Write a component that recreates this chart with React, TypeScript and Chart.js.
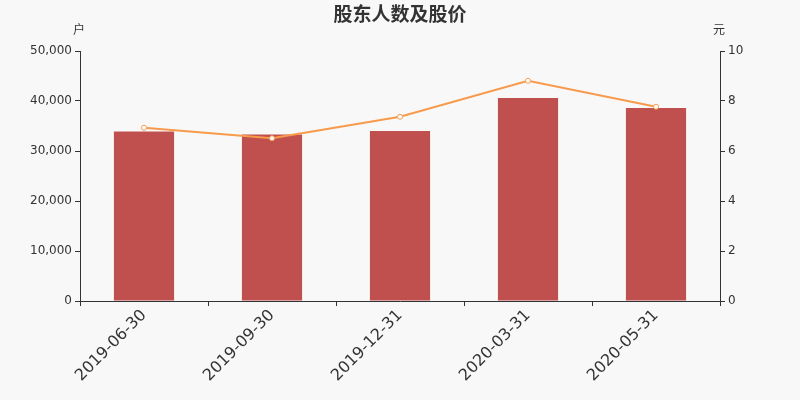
import { useEffect, useRef } from 'react';
import { Chart, registerables } from 'chart.js';

Chart.register(...registerables);

const dates = ['2019-06-30', '2019-09-30', '2019-12-31', '2020-03-31', '2020-05-31'];
const holders = [33900, 33300, 34000, 40600, 38600];
const prices = [6.93, 6.51, 7.37, 8.81, 7.77];

const FONT = '"DejaVu Sans", sans-serif';

// draws the title and the two unit labels above the axes
const labelsPlugin = {
  id: 'unitLabels',
  afterDraw(chart: Chart) {
    const { ctx, chartArea } = chart;
    ctx.save();
    ctx.fillStyle = '#333';
    ctx.textAlign = 'center';
    ctx.textBaseline = 'middle';
    ctx.font = 'bold 19px "Noto Sans CJK SC", sans-serif';
    ctx.fillText('股东人数及股价', 400, 14);
    ctx.font = '12px "Noto Sans CJK SC", sans-serif';
    ctx.fillText('户', chartArea.left - 1, 29);
    ctx.fillText('元', chartArea.right - 1, 29);
    ctx.restore();
  },
};

export default function App() {
  const chartRef = useRef<HTMLCanvasElement>(null);
  const chartInstance = useRef<Chart | null>(null);

  useEffect(() => {
    document.body.style.margin = '0';
    if (!chartRef.current) return;
    if (chartInstance.current) chartInstance.current.destroy();
    const ctx = chartRef.current.getContext('2d');
    if (!ctx) return;

    chartInstance.current = new Chart(ctx, {
      type: 'bar',
      data: {
        labels: dates,
        datasets: [
          {
            type: 'line',
            label: '股价',
            data: prices,
            yAxisID: 'y1',
            borderColor: '#f79a4b',
            borderWidth: 2,
            pointRadius: 2.5,
            pointBackgroundColor: '#fff',
            pointBorderColor: '#f79a4b',
            pointBorderWidth: 1,
            tension: 0,
            order: 0,
          },
          {
            type: 'bar',
            label: '股东人数',
            data: holders,
            yAxisID: 'y',
            backgroundColor: '#c0504d',
            categoryPercentage: 1,
            barPercentage: 0.47,
            order: 1,
          },
        ],
      },
      options: {
        responsive: true,
        maintainAspectRatio: false,
        animation: false,
        layout: { padding: { top: 51, left: 0, right: 0, bottom: 0 } },
        plugins: {
          legend: { display: false },
          title: { display: false },
          tooltip: { enabled: false },
        },
        scales: {
          x: {
            offset: true,
            grid: {
              offset: true,
              drawOnChartArea: false,
              drawTicks: true,
              tickLength: 5,
              color: '#333',
            },
            border: { color: '#333' },
            ticks: {
              color: '#333',
              font: { family: FONT, size: 16 },
              minRotation: 45,
              maxRotation: 45,
              padding: 0,
            },
            afterFit(scale: any) {
              scale.height = 99;
            },
          },
          y: {
            position: 'left',
            min: 0,
            max: 50000,
            grid: { drawOnChartArea: false, tickLength: 5, color: '#333' },
            border: { color: '#333' },
            ticks: {
              stepSize: 10000,
              color: '#333',
              font: { family: FONT, size: 12 },
              padding: 3,
              callback: (v: any) => Number(v).toLocaleString('en-US'),
            },
            afterFit(scale: any) {
              scale.width = 80;
            },
          },
          y1: {
            position: 'right',
            min: 0,
            max: 10,
            grid: { drawOnChartArea: false, tickLength: 5, color: '#333' },
            border: { color: '#333' },
            ticks: {
              stepSize: 2,
              color: '#333',
              font: { family: FONT, size: 12 },
              padding: 3,
            },
            afterFit(scale: any) {
              scale.width = 80;
            },
          },
        },
      },
      plugins: [labelsPlugin],
    });

    return () => {
      if (chartInstance.current) {
        chartInstance.current.destroy();
        chartInstance.current = null;
      }
    };
  }, []);

  return (
    <div style={{ width: 800, height: 400, background: '#f8f8f8', position: 'relative' }}>
      <canvas ref={chartRef} />
    </div>
  );
}
